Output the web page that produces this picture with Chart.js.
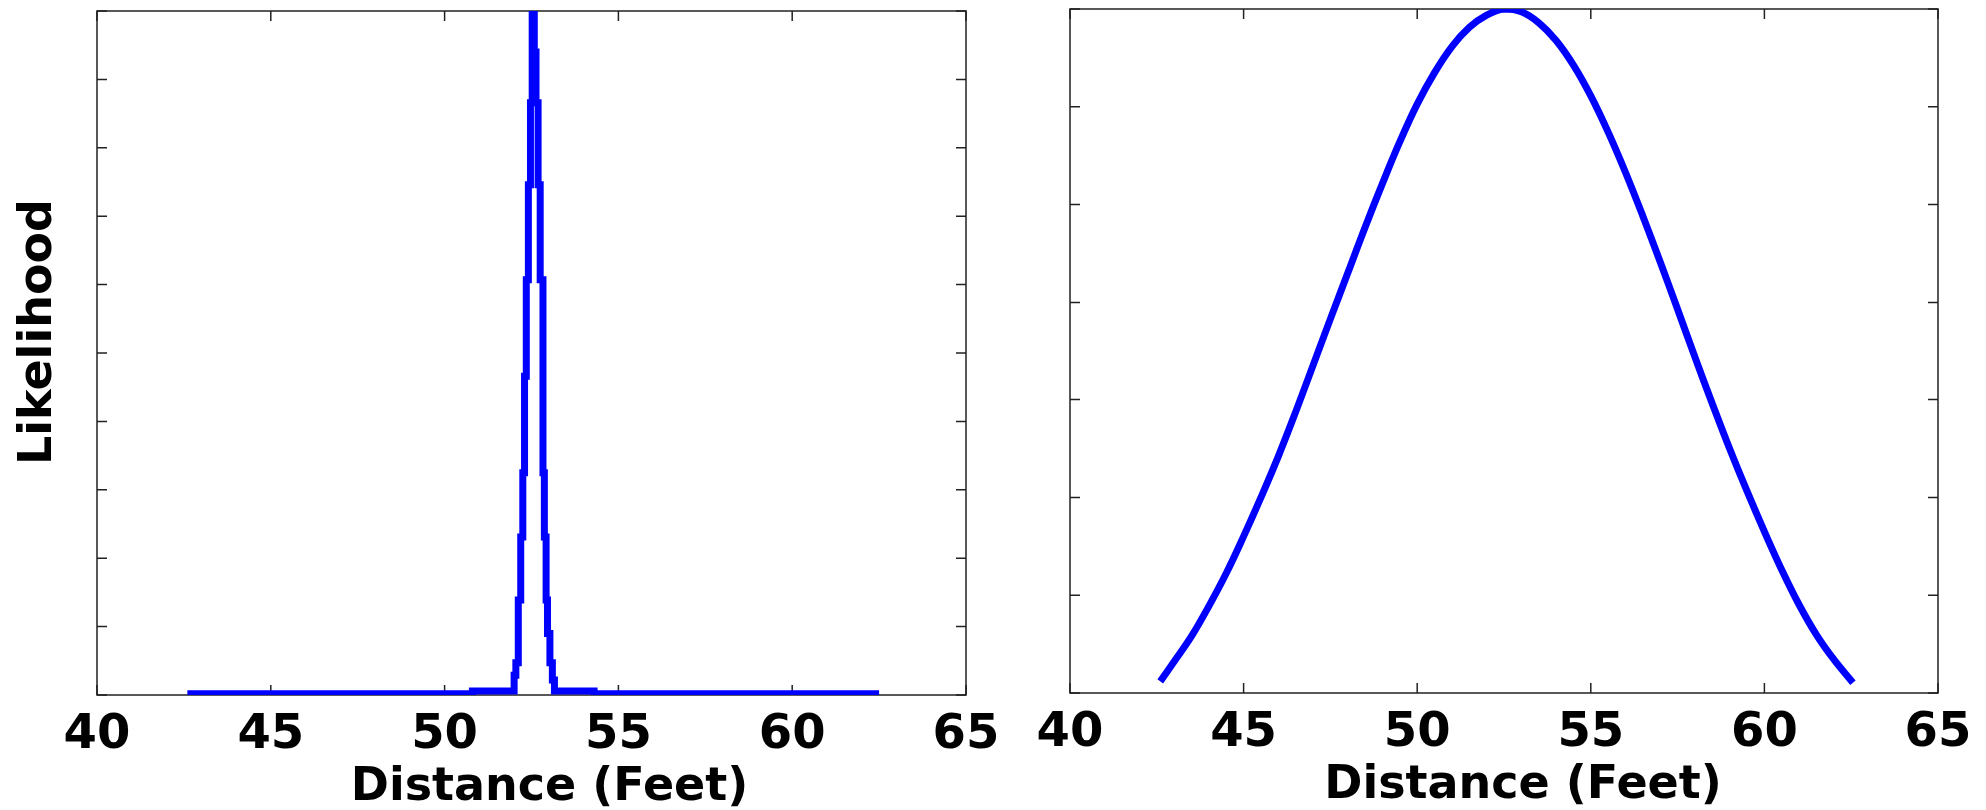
<!DOCTYPE html>
<html lang="en">
<head>
  <meta charset="utf-8">
  <title>Distance Likelihood</title>
  <script src="https://cdn.jsdelivr.net/npm/chart.js@4.4.1/dist/chart.umd.min.js"></script>
  <style>
    body { margin: 0; background: #fff; }
    .box { position: absolute; top: 0; height: 810px; }
    #left { left: 0; width: 1010px; }
    #right { left: 1010px; width: 976px; }
  </style>
</head>
<body>
  <div id="left" class="box"><canvas id="chartLeft" width="1010" height="810"></canvas></div>
  <div id="right" class="box"><canvas id="chartRight" width="976" height="810"></canvas></div>
  <script>
    // x tick labels (feet)
    const xTicks = [40, 45, 50, 55, 60, 65];
    // y tick marks (labels hidden), as a fraction of the peak
    const leftYTicks = [0, 0.1, 0.2, 0.3, 0.4, 0.5, 0.6, 0.7, 0.8, 0.9, 1];
    const rightYTicks = [0, 0.143, 0.286, 0.429, 0.571, 0.714, 0.857, 1];

    const leftDist = [42.6, 50.8, 52.00, 52.05, 52.12, 52.19, 52.25, 52.30, 52.35, 52.41, 52.47, 52.52,
      52.58, 52.63, 52.69, 52.75, 52.83, 52.87, 52.92, 52.96, 53.03, 53.10, 53.16, 54.3, 62.5];
    const leftLik = [0.002, 0.006, 0.029, 0.047, 0.139, 0.231, 0.325, 0.466, 0.607, 0.746, 0.866, 1.0,
      0.94, 0.866, 0.746, 0.607, 0.325, 0.231, 0.139, 0.09, 0.047, 0.022, 0.006, 0.002, 0.002];

    // right panel: wide likelihood
    const rightDist = [42.6, 43, 43.5, 44, 44.5, 45, 45.5, 46, 46.5, 47, 47.5, 48, 48.5, 49, 49.5, 50,
      50.5, 51, 51.5, 52, 52.5, 53, 53.5, 54, 54.5, 55, 55.5, 56, 56.5, 57, 57.5, 58, 58.5, 59, 59.5,
      60, 60.5, 61, 61.5, 62, 62.55];
    const rightLik = [0.017, 0.046, 0.083, 0.127, 0.175, 0.229, 0.286, 0.346, 0.411, 0.479, 0.547, 0.614,
      0.681, 0.745, 0.806, 0.861, 0.907, 0.945, 0.973, 0.991, 1.0, 0.996, 0.980, 0.954, 0.918, 0.873,
      0.820, 0.761, 0.697, 0.630, 0.561, 0.491, 0.423, 0.357, 0.295, 0.236, 0.180, 0.129, 0.085, 0.049, 0.015];

    const FONT = 'DejaVu Sans';

    // box around the plot with inward ticks on all four sides
    const framePlugin = {
      id: 'frame',
      beforeDatasetsDraw(chart) {
        const { ctx, chartArea: a, scales } = chart;
        ctx.save();
        ctx.strokeStyle = '#222';
        ctx.lineWidth = 1.5;
        ctx.beginPath();
        scales.x.ticks.forEach(t => {
          const px = scales.x.getPixelForValue(t.value);
          ctx.moveTo(px, a.bottom); ctx.lineTo(px, a.bottom - 10);
          ctx.moveTo(px, a.top); ctx.lineTo(px, a.top + 10);
        });
        scales.y.ticks.forEach(t => {
          const py = scales.y.getPixelForValue(t.value);
          ctx.moveTo(a.left, py); ctx.lineTo(a.left + 10, py);
          ctx.moveTo(a.right, py); ctx.lineTo(a.right - 10, py);
        });
        ctx.stroke();
        ctx.strokeRect(a.left, a.top, a.right - a.left, a.bottom - a.top);
        ctx.restore();
      }
    };

    // axis titles
    const labelPlugin = {
      id: 'labels',
      afterDraw(chart, args, opts) {
        const { ctx, chartArea: a } = chart;
        ctx.save();
        ctx.fillStyle = '#000';
        ctx.font = 'bold 46px "' + FONT + '"';
        ctx.textAlign = 'center';
        ctx.textBaseline = 'alphabetic';
        ctx.fillText(opts.xText, (a.left + a.right) / 2 + opts.xShift, opts.xBase);
        if (opts.yText) {
          ctx.translate(opts.yBase, (a.top + a.bottom) / 2 + opts.yShift);
          ctx.rotate(-Math.PI / 2);
          ctx.fillText(opts.yText, 0, 0);
        }
        ctx.restore();
      }
    };

    function makeChart(id, dist, lik, yTicks, cfg) {
      const ctx = document.getElementById(id).getContext('2d');
      return new Chart(ctx, {
        type: 'line',
        data: {
          datasets: [{
            data: dist.map((d, i) => ({ x: d, y: lik[i] })),
            borderColor: '#0000ff',
            borderWidth: 7,
            borderCapStyle: 'butt',
            borderJoinStyle: 'miter',
            pointRadius: 0,
            fill: false,
            clip: 0,
            stepped: cfg.stepped,
            tension: cfg.tension
          }]
        },
        options: {
          responsive: false,
          animation: false,
          layout: { padding: cfg.padding },
          plugins: {
            legend: { display: false },
            tooltip: { enabled: false },
            labels: cfg.labels
          },
          scales: {
            x: {
              type: 'linear',
              min: 40,
              max: 65,
              grid: { display: false },
              border: { display: false },
              afterBuildTicks: s => { s.ticks = xTicks.map(v => ({ value: v })); },
              afterFit: s => { s.height = cfg.xHeight; },
              ticks: {
                padding: 4,
                maxRotation: 0,
                autoSkip: false,
                color: '#000',
                font: { family: FONT, weight: 'bold', size: 48 }
              }
            },
            y: {
              min: 0,
              max: 1,
              grid: { display: false },
              border: { display: false },
              afterBuildTicks: s => { s.ticks = yTicks.map(v => ({ value: v })); },
              afterFit: s => { s.width = cfg.yWidth; },
              ticks: { display: false }
            }
          }
        },
        plugins: [framePlugin, labelPlugin]
      });
    }

    makeChart('chartLeft', leftDist, leftLik, leftYTicks, {
      stepped: 'before',
      tension: 0,
      padding: { top: 11, right: 44, left: 0, bottom: 0 },
      xHeight: 115,
      yWidth: 97,
      labels: { xText: 'Distance (Feet)', xShift: 18, xBase: 800, yText: 'Likelihood', yShift: -21, yBase: 51 }
    });

    makeChart('chartRight', rightDist, rightLik, rightYTicks, {
      stepped: false,
      tension: 0.4,
      padding: { top: 9, right: 48, left: 0, bottom: 0 },
      xHeight: 117,
      yWidth: 60,
      labels: { xText: 'Distance (Feet)', xShift: 19, xBase: 798 }
    });
  </script>
</body>
</html>
